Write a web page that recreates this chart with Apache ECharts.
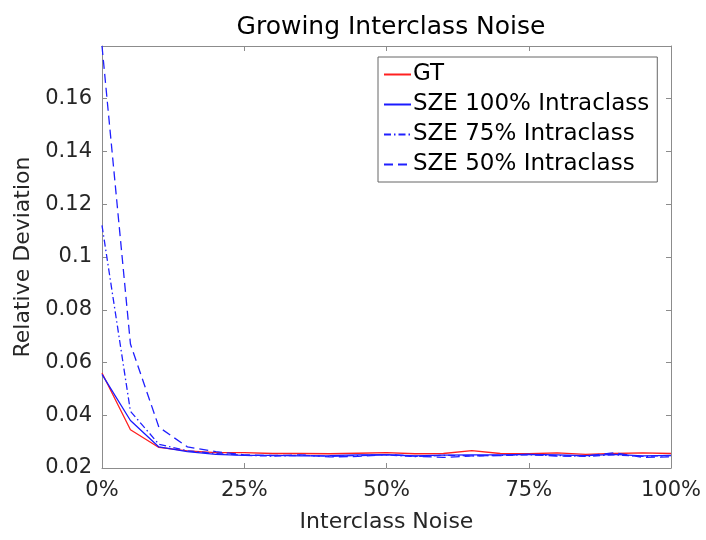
<!DOCTYPE html>
<html>
<head>
<meta charset="utf-8">
<script src="https://cdn.jsdelivr.net/npm/echarts@6/dist/echarts.min.js"></script>
<style>
  html, body { margin: 0; padding: 0; background: #fff; }
  #chart { width: 706px; height: 540px; }
</style>
</head>
<body>
<div id="chart"></div>
<script>
// Interclass noise levels (%)
const noiseLevels = [0, 5, 10, 15, 20, 25, 30, 35, 40, 45, 50, 55, 60, 65, 70, 75, 80, 85, 90, 95, 100];

// Relative deviation for each method
const gtValues     = [0.0560, 0.0345, 0.0278, 0.0265, 0.0258, 0.0258, 0.0255, 0.0255, 0.0254, 0.0256, 0.0258, 0.0254, 0.0255, 0.0266, 0.0255, 0.0254, 0.0257, 0.0252, 0.0255, 0.0257, 0.0255];
const sze100Values = [0.0555, 0.0380, 0.0280, 0.0262, 0.0252, 0.0248, 0.0248, 0.0246, 0.0247, 0.0250, 0.0251, 0.0246, 0.0249, 0.0250, 0.0250, 0.0252, 0.0250, 0.0247, 0.0252, 0.0246, 0.0248];
const sze75Values  = [0.1120, 0.0415, 0.0290, 0.0265, 0.0255, 0.0248, 0.0245, 0.0248, 0.0244, 0.0247, 0.0250, 0.0243, 0.0248, 0.0246, 0.0248, 0.0250, 0.0247, 0.0244, 0.0250, 0.0244, 0.0247];
const sze50Values  = [0.1800, 0.0670, 0.0355, 0.0280, 0.0262, 0.0250, 0.0247, 0.0250, 0.0242, 0.0244, 0.0251, 0.0245, 0.0240, 0.0246, 0.0247, 0.0252, 0.0245, 0.0246, 0.0258, 0.0240, 0.0242];

const seriesNames = ['GT', 'SZE 100% Intraclass', 'SZE 75% Intraclass', 'SZE 50% Intraclass'];

// Axis ticks
const xTicks = { min: 0, max: 100, interval: 25 };
const yTicks = { min: 0.02, max: 0.18, interval: 0.02 };

const FONT = 'DejaVu Sans';
const AXIS_GRAY = '#8c8c8c';
const TEXT_DARK = '#262626';

function pairs(vals) {
  return noiseLevels.map((x, i) => [x, vals[i]]);
}

function lineSeries(name, vals, color, type) {
  return {
    name: name,
    type: 'line',
    data: pairs(vals),
    symbol: 'none',
    showSymbol: false,
    animation: false,
    color: color,
    itemStyle: { color: color },
    lineStyle: { color: color, width: 1.3, type: type },
    z: 3
  };
}

const frameAxis = {
  axisLine: { show: true, onZero: false, lineStyle: { color: AXIS_GRAY, width: 1 } },
  axisTick: { show: true, inside: true, length: 5, lineStyle: { color: AXIS_GRAY } },
  splitLine: { show: false }
};

const chart = echarts.init(document.getElementById('chart'), null, { renderer: 'canvas' });

chart.setOption({
  backgroundColor: '#ffffff',
  animation: false,
  title: {
    text: 'Growing Interclass Noise',
    left: 386,
    top: 10,
    textAlign: 'center',
    textStyle: { fontFamily: FONT, fontSize: 25, fontWeight: 'normal', color: '#000' }
  },
  grid: { left: 102, right: 35, top: 46, bottom: 72 },
  legend: {
    orient: 'vertical',
    left: 378,
    top: 57,
    data: seriesNames,
    itemWidth: 27,
    itemHeight: 14,
    itemGap: 7,
    padding: [6, 8, 6, 5],
    borderColor: '#666666',
    borderWidth: 1,
    backgroundColor: '#ffffff',
    // legend keys show the line only
    itemStyle: { opacity: 0 },
    textStyle: { fontFamily: FONT, fontSize: 23, color: '#000', padding: [0, 0, 0, -3] }
  },
  xAxis: [
    Object.assign({
      type: 'value',
      min: xTicks.min, max: xTicks.max, interval: xTicks.interval,
      position: 'bottom',
      name: 'Interclass Noise',
      nameLocation: 'middle',
      nameGap: 43,
      nameTextStyle: { fontFamily: FONT, fontSize: 22, color: TEXT_DARK },
      axisLabel: { formatter: '{value}%', fontFamily: FONT, fontSize: 21, color: TEXT_DARK, margin: 12 }
    }, frameAxis),
    Object.assign({
      type: 'value',
      min: xTicks.min, max: xTicks.max, interval: xTicks.interval,
      position: 'top',
      axisLabel: { show: false }
    }, frameAxis)
  ],
  yAxis: [
    Object.assign({
      type: 'value',
      min: yTicks.min, max: yTicks.max, interval: yTicks.interval,
      position: 'left',
      name: 'Relative Deviation',
      nameLocation: 'middle',
      nameGap: 63,
      nameTextStyle: { fontFamily: FONT, fontSize: 22, color: TEXT_DARK },
      axisLabel: {
        fontFamily: FONT, fontSize: 21, color: TEXT_DARK, margin: 10,
        showMaxLabel: false,
        formatter: v => String(parseFloat(v.toFixed(2)))
      }
    }, frameAxis),
    Object.assign({
      type: 'value',
      min: yTicks.min, max: yTicks.max, interval: yTicks.interval,
      position: 'right',
      axisLabel: { show: false }
    }, frameAxis)
  ],
  series: [
    lineSeries(seriesNames[0], gtValues, '#ff2020', 'solid'),
    lineSeries(seriesNames[1], sze100Values, '#1a1aff', 'solid'),
    lineSeries(seriesNames[2], sze75Values, '#2020ff', [7, 3, 1.5, 3]),
    lineSeries(seriesNames[3], sze50Values, '#2020ff', [9, 5])
  ]
});
</script>
</body>
</html>
